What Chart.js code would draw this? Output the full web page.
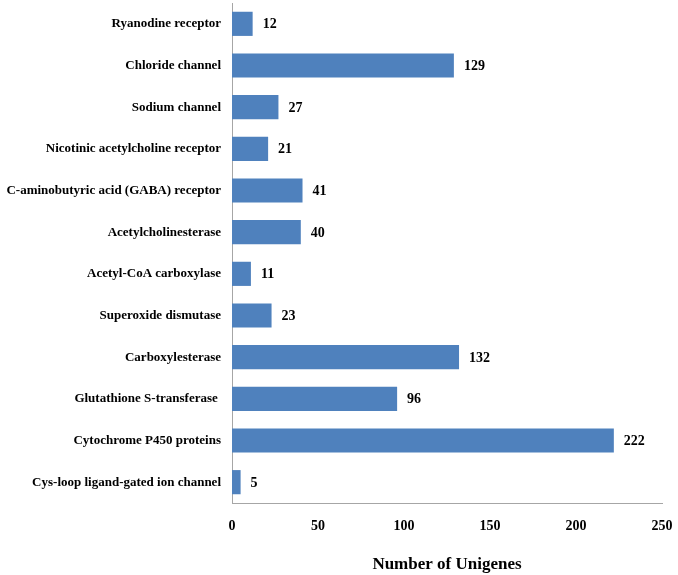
<!DOCTYPE html>
<html>
<head>
<meta charset="utf-8">
<script src="https://cdn.jsdelivr.net/npm/chart.js@4"></script>
<style>
  html, body { margin: 0; padding: 0; background: #fff; }
  #wrap { width: 678px; height: 575px; }
</style>
</head>
<body>
<div id="wrap"><canvas id="c"></canvas></div>
<script>
const categories = [
  "Ryanodine receptor",
  "Chloride channel",
  "Sodium channel",
  "Nicotinic acetylcholine receptor",
  "C-aminobutyric acid (GABA) receptor",
  "Acetylcholinesterase",
  "Acetyl-CoA carboxylase",
  "Superoxide dismutase",
  "Carboxylesterase",
  "Glutathione S-transferase ",
  "Cytochrome P450 proteins",
  "Cys-loop ligand-gated ion channel"
];
const unigenes = [12, 129, 27, 21, 41, 40, 11, 23, 132, 96, 222, 5];
const xTicks = [0, 50, 100, 150, 200, 250];

const serif = "'Liberation Serif', 'Times New Roman', serif";

// value labels at the end of each bar
const valueLabels = {
  id: "valueLabels",
  afterDatasetsDraw(chart) {
    const ctx = chart.ctx;
    const meta = chart.getDatasetMeta(0);
    ctx.save();
    ctx.font = "bold 14px " + serif;
    ctx.fillStyle = "#000";
    ctx.textAlign = "left";
    ctx.textBaseline = "middle";
    meta.data.forEach((bar, i) => {
      ctx.fillText(String(unigenes[i]), bar.x + 10, bar.y + 1);
    });
    ctx.restore();
  }
};

new Chart(document.getElementById("c"), {
  type: "bar",
  data: {
    labels: categories,
    datasets: [{
      data: unigenes,
      backgroundColor: "#4F81BD",
      borderWidth: 0,
      categoryPercentage: 1,
      barPercentage: 0.58,
    }],
  },
  options: {
    indexAxis: "y",
    responsive: true,
    maintainAspectRatio: false,
    animation: false,
    layout: { padding: { top: 3, right: 16, left: 0, bottom: 0 } },
    plugins: {
      legend: { display: false },
      tooltip: { enabled: false },
    },
    scales: {
      x: {
        min: 0,
        max: 250,
        afterBuildTicks: (scale) => { scale.ticks = xTicks.map(v => ({ value: v })); },
        afterFit: (scale) => {
          scale.height = 72;
          scale.paddingLeft = 0;
          scale.paddingRight = 0;
        },
        grid: { display: false, drawTicks: false },
        border: { display: true, color: "#A6A6A6", width: 1 },
        ticks: {
          padding: 15,
          color: "#000",
          font: { family: serif, size: 14, weight: "bold" },
        },
        title: {
          display: true,
          text: "Number of Unigenes",
          color: "#000",
          font: { family: serif, size: 17, weight: "bold" },
          padding: { top: 19, bottom: 0 },
        },
      },
      y: {
        afterFit: (scale) => {
          scale.width = 232;
          scale.paddingTop = 0;
          scale.paddingBottom = 0;
        },
        grid: { display: false, drawTicks: false },
        border: { display: true, color: "#A6A6A6", width: 1 },
        ticks: {
          padding: 11,
          color: "#000",
          autoSkip: false,
          font: { family: serif, size: 13, weight: "bold" },
        },
      },
    },
  },
  plugins: [valueLabels],
});
</script>
</body>
</html>
